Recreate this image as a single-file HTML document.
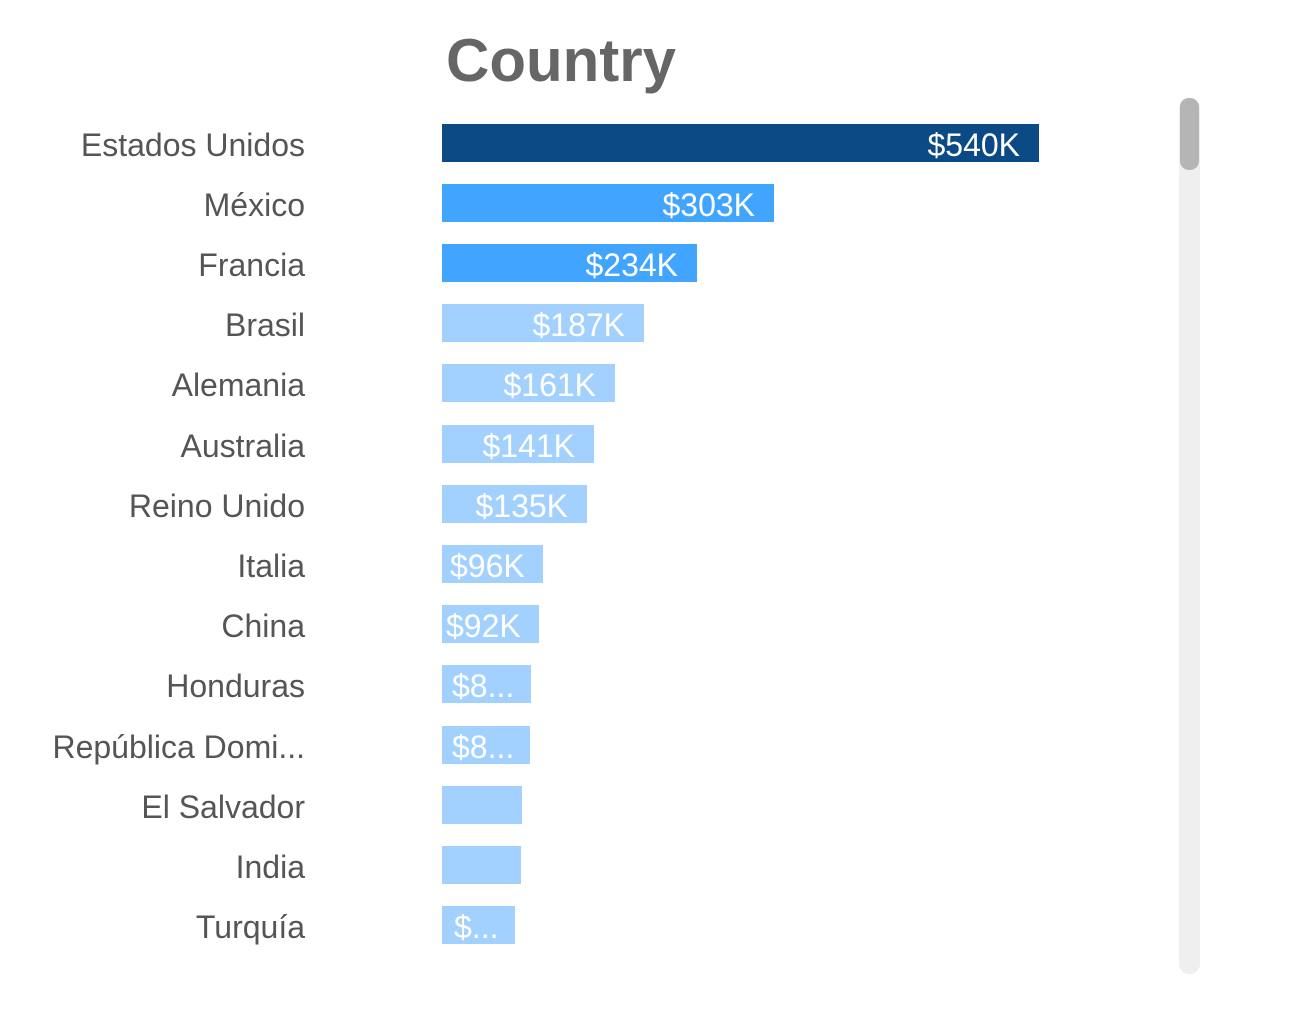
<!DOCTYPE html>
<html><head><meta charset="utf-8"><style>
body{margin:0;width:1292px;height:1012px;background:#fff;position:relative;overflow:hidden;font-family:"Liberation Sans",sans-serif}
.t{position:absolute;left:446px;top:26px;font-size:60px;font-weight:bold;color:#666;line-height:70px}
.l{position:absolute;right:987px;font-size:32px;color:#555;line-height:42px;white-space:nowrap}
.b{position:absolute;left:442px;height:38px}
.v{position:absolute;font-size:32px;color:#fff;line-height:42px;white-space:nowrap}
</style></head><body>
<div class="t">Country</div>
<div style="position:absolute;left:1179px;top:98px;width:21px;height:876px;background:#efefef;border-radius:10px"></div>
<div style="position:absolute;left:1180px;top:98px;width:19px;height:72px;background:#b5b5b5;border-radius:9px"></div>

<div class="l" style="top:124px">Estados Unidos</div><div class="b" style="top:124px;width:597px;background:#0c4a86"></div><div class="v" style="top:124px;right:272px">$540K</div>
<div class="l" style="top:184px">México</div><div class="b" style="top:184px;width:332px;background:#41a5ff"></div><div class="v" style="top:184px;right:537px">$303K</div>
<div class="l" style="top:244px">Francia</div><div class="b" style="top:244px;width:255px;background:#41a5ff"></div><div class="v" style="top:244px;right:614px">$234K</div>
<div class="l" style="top:304px">Brasil</div><div class="b" style="top:304px;width:202px;background:#a3d1ff"></div><div class="v" style="top:304px;right:667px">$187K</div>
<div class="l" style="top:364px">Alemania</div><div class="b" style="top:364px;width:173px;background:#a3d1ff"></div><div class="v" style="top:364px;right:696px">$161K</div>
<div class="l" style="top:425px">Australia</div><div class="b" style="top:425px;width:152px;background:#a3d1ff"></div><div class="v" style="top:425px;right:717px">$141K</div>
<div class="l" style="top:485px">Reino Unido</div><div class="b" style="top:485px;width:145px;background:#a3d1ff"></div><div class="v" style="top:485px;right:724px">$135K</div>
<div class="l" style="top:545px">Italia</div><div class="b" style="top:545px;width:101px;background:#a3d1ff"></div><div class="v" style="top:545px;left:450px">$96K</div>
<div class="l" style="top:605px">China</div><div class="b" style="top:605px;width:97px;background:#a3d1ff"></div><div class="v" style="top:605px;left:446px">$92K</div>
<div class="l" style="top:665px">Honduras</div><div class="b" style="top:665px;width:89px;background:#a3d1ff"></div><div class="v" style="top:665px;left:452px">$8...</div>
<div class="l" style="top:726px">República Domi...</div><div class="b" style="top:726px;width:88px;background:#a3d1ff"></div><div class="v" style="top:726px;left:452px">$8...</div>
<div class="l" style="top:786px">El Salvador</div><div class="b" style="top:786px;width:80px;background:#a3d1ff"></div>
<div class="l" style="top:846px">India</div><div class="b" style="top:846px;width:79px;background:#a3d1ff"></div>
<div class="l" style="top:906px">Turquía</div><div class="b" style="top:906px;width:73px;background:#a3d1ff"></div><div class="v" style="top:906px;left:454px">$...</div>
</body></html>
